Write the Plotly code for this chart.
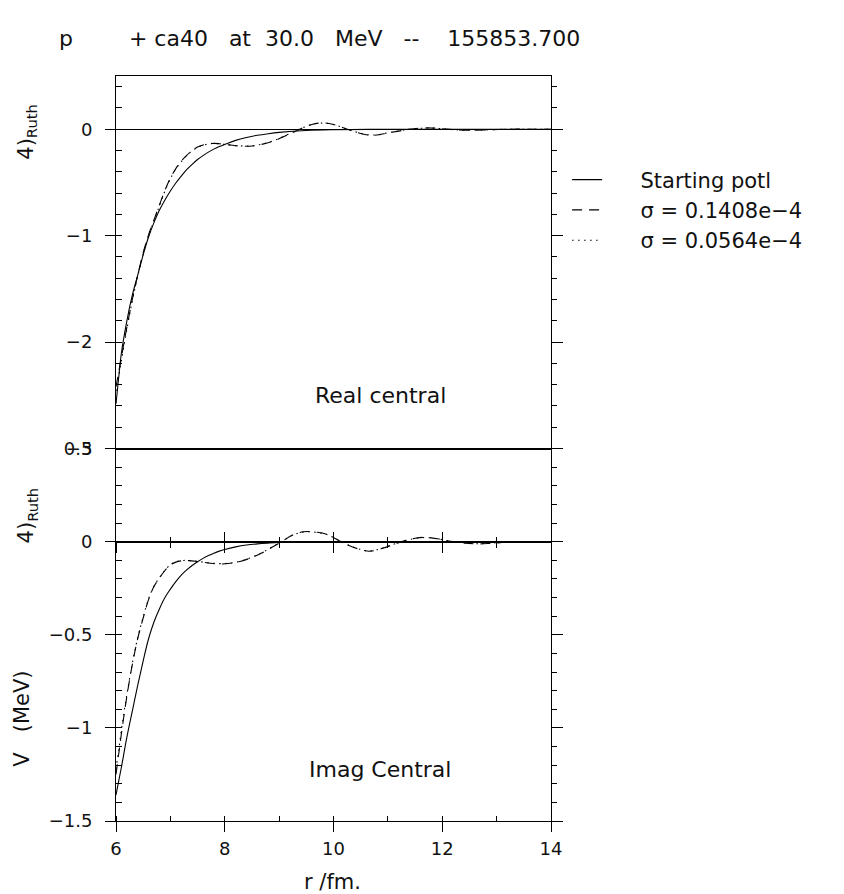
import plotly.graph_objects as go

# ---------------- data ----------------
NB = "\u00a0"
title_text = ("p" + NB * 8 + "+" + NB + "ca40" + NB * 3 + "at" + NB * 2 + "30.0" + NB * 3 +
              "MeV" + NB * 3 + "--" + NB * 4 + "155853.700")
series_names = ["Starting potl", "\u03c3 = 0.1408e\u22124", "\u03c3 = 0.0564e\u22124"]

# Real central (top panel)
r_real_start = [6.0, 6.05, 6.1, 6.2, 6.3, 6.4, 6.5, 6.6, 6.7, 6.8, 6.9, 7.0, 7.1, 7.2, 7.3, 7.4,
                7.5, 7.6, 7.7, 7.8, 7.9, 8.0, 8.2, 8.4, 8.6, 8.8, 9.0, 9.5, 10.0, 11.0, 12.0, 14.0]
v_real_start = [-2.58, -2.33, -2.10, -1.80, -1.56, -1.37, -1.18, -1.01, -0.875, -0.76, -0.665,
                -0.58, -0.505, -0.44, -0.38, -0.33, -0.285, -0.248, -0.215, -0.187, -0.163,
                -0.143, -0.105, -0.078, -0.057, -0.042, -0.030, -0.012, -0.005, -0.001, 0.0, 0.0]

r_real_fit = [6.0, 6.1, 6.2, 6.3, 6.4, 6.5, 6.6, 6.7, 6.8, 6.9, 7.0, 7.1, 7.2, 7.3, 7.4, 7.5,
              7.6, 7.7, 7.8, 7.9, 8.0, 8.2, 8.4, 8.5, 8.7, 8.9, 9.1, 9.3, 9.4, 9.6, 9.8, 10.0,
              10.2, 10.4, 10.6, 10.8, 11.0, 11.2, 11.4, 11.6, 11.8, 12.0, 12.2, 12.5, 12.9,
              13.3, 13.7, 14.0]
v_real_fit1 = [-2.42, -2.14, -1.86, -1.60, -1.37, -1.16, -0.99, -0.85, -0.71, -0.575, -0.46,
               -0.37, -0.30, -0.245, -0.20, -0.168, -0.148, -0.137, -0.133, -0.136, -0.142,
               -0.155, -0.16, -0.158, -0.14, -0.11, -0.065, -0.02, 0.005, 0.045, 0.06, 0.045,
               0.01, -0.025, -0.052, -0.055, -0.035, -0.018, 0.0, 0.01, 0.012, 0.004,
               -0.004, -0.01, -0.005, 0.0, 0.0, 0.0]
v_real_fit2 = [-2.46, -2.17, -1.88, -1.61, -1.38, -1.17, -1.00, -0.86, -0.72, -0.58, -0.465,
               -0.375, -0.305, -0.248, -0.203, -0.17, -0.15, -0.139, -0.134, -0.137, -0.143,
               -0.154, -0.158, -0.156, -0.138, -0.108, -0.063, -0.019, 0.006, 0.044, 0.058, 0.044,
               0.01, -0.024, -0.05, -0.053, -0.034, -0.017, 0.0, 0.009, 0.011, 0.004,
               -0.004, -0.009, -0.005, 0.0, 0.0, 0.0]

# Imag central (bottom panel)
r_imag_start = [6.0, 6.1, 6.2, 6.3, 6.4, 6.5, 6.6, 6.7, 6.8, 6.9, 7.0, 7.1, 7.2, 7.3, 7.4, 7.5,
                7.6, 7.7, 7.8, 7.9, 8.0, 8.2, 8.4, 8.6, 8.8, 9.0, 9.5, 10.0, 11.0, 12.0, 14.0]
v_imag_start = [-1.36, -1.21, -1.05, -0.91, -0.77, -0.64, -0.52, -0.43, -0.36, -0.30, -0.255,
                -0.215, -0.18, -0.152, -0.128, -0.108, -0.09, -0.075, -0.062, -0.051, -0.042,
                -0.028, -0.018, -0.012, -0.008, -0.005, -0.002, -0.001, 0.0, 0.0, 0.0]

r_imag_fit = [6.0, 6.05, 6.1, 6.2, 6.3, 6.4, 6.5, 6.6, 6.7, 6.8, 6.9, 7.0, 7.1, 7.2, 7.3,
              7.5, 7.7, 7.9, 8.1, 8.3, 8.5, 8.7, 8.9, 9.05, 9.25, 9.45, 9.7, 9.9, 10.05, 10.25,
              10.5, 10.67, 10.9, 11.1, 11.3, 11.5, 11.7, 11.95, 12.2, 12.6, 12.9, 13.3, 14.0]
v_imag_fit1 = [-1.25, -1.14, -1.03, -0.83, -0.66, -0.52, -0.41, -0.31, -0.24, -0.195, -0.155,
               -0.125, -0.11, -0.103, -0.102, -0.107, -0.115, -0.12, -0.116, -0.105, -0.085,
               -0.058, -0.025, 0.0, 0.036, 0.053, 0.05, 0.037, 0.014, -0.017, -0.043, -0.052,
               -0.036, -0.016, 0.004, 0.018, 0.023, 0.014, 0.0, -0.012, -0.009, 0.0, 0.0]
v_imag_fit2 = [-1.22, -1.12, -1.01, -0.82, -0.655, -0.515, -0.405, -0.307, -0.238, -0.193,
               -0.154, -0.124, -0.109, -0.102, -0.101, -0.106, -0.114, -0.118, -0.115, -0.104,
               -0.084, -0.057, -0.024, 0.001, 0.035, 0.052, 0.049, 0.036, 0.013, -0.016, -0.042,
               -0.05, -0.035, -0.015, 0.004, 0.017, 0.022, 0.013, 0.0, -0.011, -0.008, 0.0, 0.0]

panel_labels = ["Real central", "Imag Central"]

# ---------------- figure ----------------
FONT = "DejaVu Sans"
BLACK = "#000000"
TXT = "#111111"
fig = go.Figure()

dash_styles = ["solid", "10px,7px", "1.5px,4.5px"]
leg_pad = NB * 5

# top panel traces
fig.add_trace(go.Scatter(x=r_real_start, y=v_real_start, mode="lines",
                         name=leg_pad + series_names[0],
                         line=dict(color=BLACK, width=1.1, dash=dash_styles[0], shape="spline"),
                         xaxis="x", yaxis="y", legendrank=1))
fig.add_trace(go.Scatter(x=r_real_fit, y=v_real_fit1, mode="lines",
                         name=leg_pad + series_names[1],
                         line=dict(color=BLACK, width=1.1, dash=dash_styles[1], shape="spline"),
                         xaxis="x", yaxis="y", legendrank=2))
fig.add_trace(go.Scatter(x=r_real_fit, y=v_real_fit2, mode="lines",
                         name=leg_pad + series_names[2],
                         line=dict(color=BLACK, width=1.1, dash=dash_styles[2], shape="spline"),
                         xaxis="x", yaxis="y", legendrank=3))
# bottom panel traces
fig.add_trace(go.Scatter(x=r_imag_start, y=v_imag_start, mode="lines", showlegend=False,
                         line=dict(color=BLACK, width=1.1, dash=dash_styles[0], shape="spline"),
                         xaxis="x2", yaxis="y2"))
fig.add_trace(go.Scatter(x=r_imag_fit, y=v_imag_fit1, mode="lines", showlegend=False,
                         line=dict(color=BLACK, width=1.1, dash=dash_styles[1], shape="spline"),
                         xaxis="x2", yaxis="y2"))
fig.add_trace(go.Scatter(x=r_imag_fit, y=v_imag_fit2, mode="lines", showlegend=False,
                         line=dict(color=BLACK, width=1.1, dash=dash_styles[2], shape="spline"),
                         xaxis="x2", yaxis="y2"))

# invisible helper traces so that the decorative overlay axes get drawn
for xa, ya, xs, ys in [("x", "y3", r_real_start, v_real_start),
                       ("x2", "y4", r_imag_start, v_imag_start),
                       ("x3", "y2", r_imag_start, v_imag_start),
                       ("x4", "y2", r_imag_start, v_imag_start)]:
    fig.add_trace(go.Scatter(x=xs, y=ys, mode="lines", line=dict(width=0), opacity=0,
                             showlegend=False, hoverinfo="skip", xaxis=xa, yaxis=ya))

tickfont = dict(family=FONT, size=18, color=TXT)
XR = [6, 14]
TOP_R = [-3, 0.5]
BOT_R = [-1.5, 0.5]
zero_pos = (0 - BOT_R[0]) / (BOT_R[1] - BOT_R[0]) * 0.5

fig.update_layout(
    width=836, height=886,
    margin=dict(l=108, r=293, t=68, b=73),
    paper_bgcolor="white", plot_bgcolor="white",
    showlegend=True,
    legend=dict(x=1.037, y=0.888, xanchor="left", yanchor="top",
                font=dict(family=FONT, size=21, color=TXT),
                bgcolor="rgba(0,0,0,0)", itemwidth=30, tracegroupgap=0),
    xaxis=dict(domain=[0, 1], range=XR, anchor="y", showline=True, mirror=True,
               linecolor=BLACK, linewidth=1, ticks="", showticklabels=False,
               showgrid=False, zeroline=False),
    yaxis=dict(domain=[0.5, 1], range=TOP_R, anchor="x", showline=True, linecolor=BLACK,
               linewidth=1, tickmode="linear", tick0=0, dtick=1, ticks="outside",
               ticklen=10, tickcolor=BLACK, tickfont=tickfont, ticklabelstandoff=9,
               minor=dict(tickmode="linear", tick0=0, dtick=0.2, ticks="inside", ticklen=6,
                          tickcolor=BLACK, showgrid=False),
               showgrid=False, zeroline=True, zerolinecolor=BLACK, zerolinewidth=1),
    yaxis3=dict(range=TOP_R, overlaying="y", side="right", anchor="x", showline=True,
                linecolor=BLACK, linewidth=1, tickmode="linear", tick0=0, dtick=1,
                ticks="outside", ticklen=11, tickcolor=BLACK, showticklabels=False,
                minor=dict(tickmode="linear", tick0=0, dtick=0.2, ticks="outside", ticklen=5,
                           tickcolor=BLACK, showgrid=False),
                showgrid=False, zeroline=False),
    xaxis2=dict(domain=[0, 1], range=XR, anchor="y2", showline=True, mirror=True,
                linecolor=BLACK, linewidth=1, tickmode="linear", tick0=6, dtick=2,
                ticks="outside", ticklen=10, tickcolor=BLACK, tickfont=tickfont,
                ticklabelstandoff=1,
                minor=dict(tickmode="linear", tick0=6, dtick=1, ticks="inside", ticklen=5,
                           tickcolor=BLACK, showgrid=False),
                showgrid=False, zeroline=False),
    yaxis2=dict(domain=[0, 0.5], range=BOT_R, anchor="x2", showline=True, linecolor=BLACK,
                linewidth=1, tickmode="linear", tick0=0, dtick=0.5, ticks="outside",
                ticklen=10, tickcolor=BLACK, tickfont=tickfont, ticklabelstandoff=9,
                minor=dict(tickmode="linear", tick0=0, dtick=0.1, ticks="inside", ticklen=6,
                           tickcolor=BLACK, showgrid=False),
                showgrid=False, zeroline=True, zerolinecolor=BLACK, zerolinewidth=1.6),
    yaxis4=dict(range=BOT_R, overlaying="y2", side="right", anchor="x2", showline=True,
                linecolor=BLACK, linewidth=1, tickmode="linear", tick0=0, dtick=0.5,
                ticks="outside", ticklen=11, tickcolor=BLACK, showticklabels=False,
                minor=dict(tickmode="linear", tick0=0, dtick=0.1, ticks="outside", ticklen=5,
                           tickcolor=BLACK, showgrid=False),
                showgrid=False, zeroline=False),
    # tick marks crossing the zero line of the lower panel
    xaxis3=dict(range=XR, overlaying="x2", anchor="free", position=zero_pos, side="bottom",
                showline=False, tickmode="linear", tick0=6, dtick=2, ticks="outside",
                ticklen=10, tickcolor=BLACK, showticklabels=False,
                minor=dict(tickmode="linear", tick0=6, dtick=1, ticks="outside", ticklen=5,
                           tickcolor=BLACK, showgrid=False),
                showgrid=False, zeroline=False),
    xaxis4=dict(range=XR, overlaying="x2", anchor="free", position=zero_pos, side="bottom",
                showline=False, tickmode="linear", tick0=6, dtick=2, ticks="inside",
                ticklen=10, tickcolor=BLACK, showticklabels=False,
                minor=dict(tickmode="linear", tick0=6, dtick=1, ticks="inside", ticklen=5,
                           tickcolor=BLACK, showgrid=False),
                showgrid=False, zeroline=False),
)

txt = dict(family=FONT, size=22, color=TXT)
annos = [
    dict(text=title_text, x=-0.136, y=1.05, xanchor="left", yanchor="middle"),
    dict(text=panel_labels[0], x=0.607, y=0.571, xanchor="center", yanchor="middle"),
    dict(text=panel_labels[1], x=0.607, y=0.069, xanchor="center", yanchor="middle"),
    dict(text="r /fm.", x=0.497, y=-0.082, xanchor="center", yanchor="middle",
         font=dict(family=FONT, size=21, color=TXT)),
    dict(text="4)<sub>Ruth</sub>", x=-0.205, y=0.925, xanchor="center", yanchor="middle",
         textangle=-90, font=dict(family=FONT, size=21, color=TXT)),
    dict(text="4)<sub>Ruth</sub>", x=-0.205, y=0.41, xanchor="center", yanchor="middle",
         textangle=-90, font=dict(family=FONT, size=21, color=TXT)),
    dict(text="V" + NB * 3 + "(MeV)", x=-0.215, y=0.138, xanchor="center",
         yanchor="middle", textangle=-90, font=dict(family=FONT, size=21, color=TXT)),
]
for a in annos:
    f = a.pop("font", txt)
    fig.add_annotation(xref="paper", yref="paper", showarrow=False, font=f, **a)

fig.write_html("out.html")
